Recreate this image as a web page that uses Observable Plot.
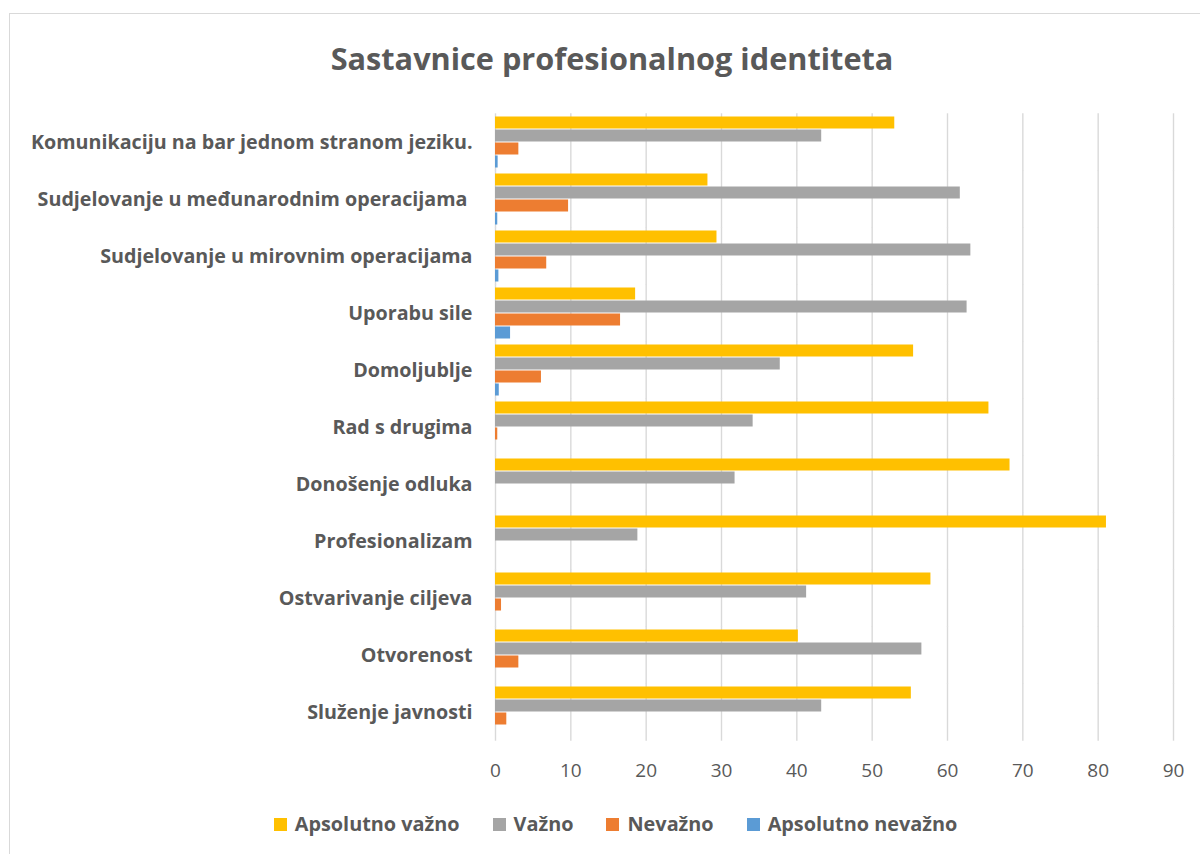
<!DOCTYPE html>
<html>
<head>
<meta charset="utf-8">
<script src="https://cdn.jsdelivr.net/npm/d3@7"></script>
<script src="https://cdn.jsdelivr.net/npm/@observablehq/plot@0.6"></script>
<style>
  html, body { margin: 0; padding: 0; background: #fff; }
  #wrap { position: relative; width: 1200px; height: 854px; overflow: hidden; font-family: "Open Sans", Lato, sans-serif; color: #595959; }
  #frame { position: absolute; left: 9px; top: 13px; width: 1400px; height: 1000px; border: 1.5px solid #d9d9d9; box-sizing: border-box; }
  #title { position: absolute; left: 0; width: 1224px; top: 34px; text-align: center; font-weight: bold; line-height: 48px; white-space: nowrap; }
  #chart { position: absolute; left: 0; top: 100px; }
  #legend { position: absolute; left: 0; width: 1231px; top: 811px; display: flex; justify-content: center; gap: 33px; font-weight: bold; line-height: 26px; white-space: nowrap; }
  #legend .item { display: flex; align-items: center; }
  #legend .sw { width: 13px; height: 13px; margin-right: 8px; }
  svg text { white-space: pre; }
</style>
</head>
<body>
<div id="wrap">
  <div id="frame"></div>
  <div id="title">Sastavnice profesionalnog identiteta</div>
  <div id="chart"></div>
  <div id="legend"></div>
</div>
<script>
const categories = [
  "Komunikaciju na bar jednom stranom jeziku.",
  "Sudjelovanje u međunarodnim operacijama ",
  "Sudjelovanje u mirovnim operacijama",
  "Uporabu sile",
  "Domoljublje",
  "Rad s drugima",
  "Donošenje odluka",
  "Profesionalizam",
  "Ostvarivanje ciljeva",
  "Otvorenost",
  "Služenje javnosti"
];
const seriesNames = ["Apsolutno važno", "Važno", "Nevažno", "Apsolutno nevažno"];
const apsolutnoVazno   = [53.0, 28.2, 29.4, 18.6, 55.5, 65.5, 68.3, 81.1, 57.8, 40.2, 55.2];
const vazno            = [43.3, 61.7, 63.1, 62.6, 37.8, 34.2, 31.8, 18.9, 41.3, 56.6, 43.3];
const nevazno          = [3.1, 9.7, 6.8, 16.6, 6.1, 0.3, 0, 0, 0.8, 3.1, 1.5];
const apsolutnoNevazno = [0.35, 0.3, 0.45, 2.0, 0.5, 0, 0, 0, 0, 0, 0];
const xTicks = [0, 10, 20, 30, 40, 50, 60, 70, 80, 90];
const seriesColors = ["#FFC000", "#A5A5A5", "#ED7D31", "#5B9BD5"];

const FONT = "'Open Sans', Lato, sans-serif";
const ctx = document.createElement("canvas").getContext("2d");
function fitSize(text, weight, target) {
  ctx.font = `${weight} 100px ${FONT}`;
  return 100 * target / ctx.measureText(text).width;
}
const labelSize = fitSize(categories[0], "bold", 442);
const titleSize = fitSize("Sastavnice profesionalnog identiteta", "bold", 563);
const legendSize = fitSize(seriesNames[0], "bold", 165);
document.getElementById("title").style.fontSize = titleSize + "px";
document.getElementById("legend").style.fontSize = legendSize + "px";

const seriesValues = [apsolutnoVazno, vazno, nevazno, apsolutnoNevazno];
const rows = [];
categories.forEach((c, i) => {
  seriesNames.forEach((s, j) => rows.push({category: c, series: s, value: seriesValues[j][i]}));
});

const chart = Plot.plot({
  width: 1200,
  height: 700,
  marginTop: 13,
  marginBottom: 60,
  marginLeft: 495,
  marginRight: 27,
  style: {color: "#595959", fontFamily: FONT, background: "transparent", overflow: "visible"},
  x: {domain: [0, 90], axis: null},
  y: {domain: seriesNames, padding: 0, axis: null},
  fy: {domain: categories, paddingInner: 0.088, paddingOuter: 0.044, axis: null},
  color: {domain: seriesNames, range: seriesColors},
  marks: [
    Plot.ruleX(xTicks, {x: d => d, stroke: "#d9d9d9", strokeWidth: 1.4, insetTop: -2.7, insetBottom: -2.7}),
    Plot.barX(rows, {x: "value", y: "series", fy: "category", fill: "series", insetTop: 0.5, insetBottom: 0.5}),
    Plot.axisFy({anchor: "left", tickSize: 0, tickPadding: 23, fontSize: labelSize, fontWeight: "bold", label: null}),
    Plot.axisX({ticks: xTicks, tickSize: 0, tickPadding: 25, fontSize: 19, label: null})
  ]
});
document.getElementById("chart").appendChild(chart);

const legend = document.getElementById("legend");
seriesNames.forEach((s, j) => {
  const item = document.createElement("div");
  item.className = "item";
  const sw = document.createElement("div");
  sw.className = "sw";
  sw.style.background = seriesColors[j];
  const t = document.createElement("span");
  t.textContent = s;
  item.appendChild(sw);
  item.appendChild(t);
  legend.appendChild(item);
});
</script>
</body>
</html>
